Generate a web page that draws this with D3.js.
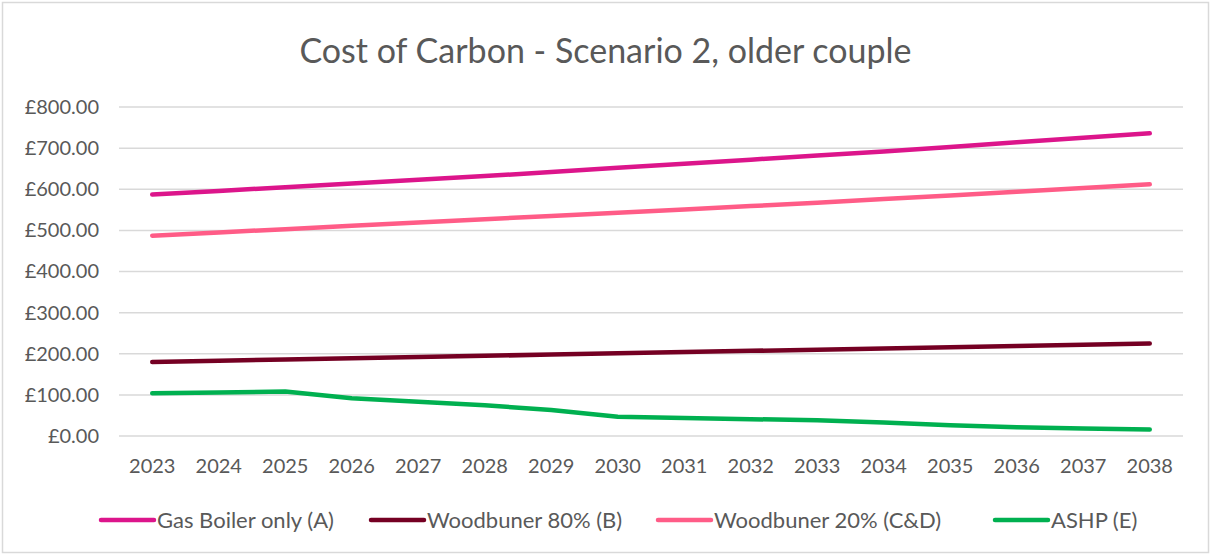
<!DOCTYPE html>
<html>
<head>
<meta charset="utf-8">
<script src="https://cdn.jsdelivr.net/npm/d3@7"></script>
<style>
  body { margin: 0; background: #fff; }
  svg { display: block; font-family: Lato, "Open Sans", sans-serif; }
</style>
</head>
<body>
<svg id="chart" width="1211" height="555"></svg>
<script>
var years = ["2023","2024","2025","2026","2027","2028","2029","2030","2031","2032","2033","2034","2035","2036","2037","2038"];
var gasBoiler = [587, 596, 605, 614, 623, 632, 642, 652, 662, 672, 682, 692, 703, 714, 725, 736];
var woodburner80 = [180, 183, 186, 189, 192, 195, 198, 201, 204, 207, 210, 213, 216, 219, 222, 225];
var woodburner20 = [487, 495, 503, 511, 519, 527, 535, 543, 551, 559, 567, 576, 585, 594, 603, 612];
var ashp = [104, 106, 108, 92, 83, 75, 63, 47, 44, 41, 38, 33, 26, 21, 18, 16];
var yTicks = [0, 100, 200, 300, 400, 500, 600, 700, 800];

var series = [
  { name: "Gas Boiler only (A)", values: gasBoiler, color: "#dc158b" },
  { name: "Woodbuner 80% (B)", values: woodburner80, color: "#750023" },
  { name: "Woodbuner 20% (C&D)", values: woodburner20, color: "#ff5c87" },
  { name: "ASHP (E)", values: ashp, color: "#00b050" }
];

var svg = d3.select("#chart");
var width = +svg.attr("width"), height = +svg.attr("height");
var margin = { top: 107, right: 28, bottom: 119, left: 119 };

// chart area border
svg.append("rect")
  .attr("x", 2.5).attr("y", 2.5)
  .attr("width", width - 5).attr("height", height - 5)
  .attr("fill", "none").attr("stroke", "#d9d9d9").attr("stroke-width", 1.5);

svg.append("text")
  .attr("x", width / 2).attr("y", 63)
  .attr("text-anchor", "middle")
  .attr("font-size", 34).attr("fill", "#595959")
  .text("Cost of Carbon - Scenario 2, older couple");

var x = d3.scaleBand().domain(years).range([margin.left, width - margin.right]);
var y = d3.scaleLinear().domain([0, 800]).range([height - margin.bottom, margin.top]);

// gridlines
svg.append("g")
  .selectAll("line").data(yTicks).join("line")
  .attr("x1", margin.left).attr("x2", width - margin.right)
  .attr("y1", function (d) { return y(d); }).attr("y2", function (d) { return y(d); })
  .attr("stroke", "#d9d9d9").attr("stroke-width", 1.5);

var yAxis = svg.append("g")
  .attr("transform", "translate(" + (margin.left - 17) + ",0)")
  .call(d3.axisLeft(y).tickValues(yTicks).tickSize(0).tickFormat(function (d) { return "£" + d3.format(".2f")(d); }));
yAxis.select(".domain").remove();
yAxis.selectAll("text").attr("font-size", 20).attr("fill", "#595959").attr("font-family", "Lato, sans-serif");

var xAxis = svg.append("g")
  .attr("transform", "translate(0," + (height - margin.bottom + 20) + ")")
  .call(d3.axisBottom(x).tickSize(0));
xAxis.select(".domain").remove();
xAxis.selectAll("text").attr("font-size", 20).attr("fill", "#595959").attr("font-family", "Lato, sans-serif");

var line = d3.line()
  .x(function (d, i) { return x(years[i]) + x.bandwidth() / 2; })
  .y(function (d) { return y(d); });

svg.append("g")
  .selectAll("path").data(series).join("path")
  .attr("d", function (s) { return line(s.values); })
  .attr("fill", "none")
  .attr("stroke", function (s) { return s.color; })
  .attr("stroke-width", 4.5)
  .attr("stroke-linecap", "round")
  .attr("stroke-linejoin", "round");

// legend
var legendX = [101, 371, 658, 995];
var legend = svg.append("g").selectAll("g").data(series).join("g")
  .attr("transform", function (d, i) { return "translate(" + legendX[i] + ",520)"; });
legend.append("line")
  .attr("x1", 0).attr("x2", 53).attr("y1", 0).attr("y2", 0)
  .attr("stroke", function (d) { return d.color; })
  .attr("stroke-width", 4.5).attr("stroke-linecap", "round");
legend.append("text")
  .attr("x", 56).attr("y", 7.5)
  .attr("font-size", 22).attr("fill", "#595959")
  .text(function (d) { return d.name; });
</script>
</body>
</html>
